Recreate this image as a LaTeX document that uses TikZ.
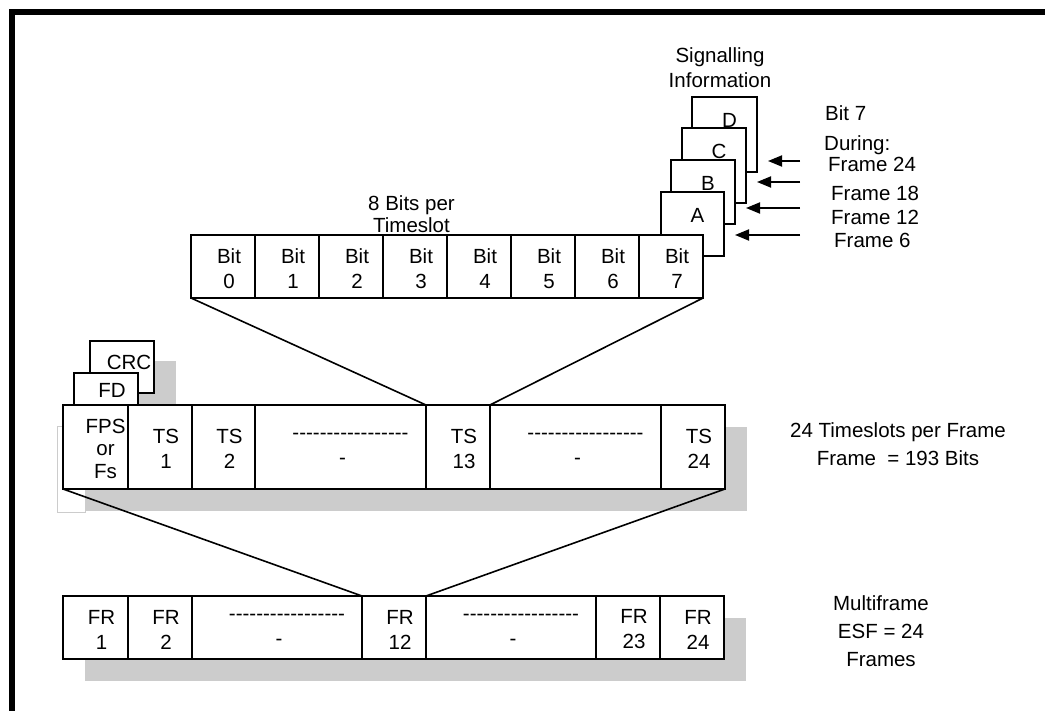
\documentclass[tikz,border=0pt]{standalone}
\usepackage{fontspec}
\setmainfont{Liberation Sans}
\usetikzlibrary{arrows.meta,backgrounds}

\tikzset{
  cell/.style={draw, fill=white, line width=1.9pt, inner sep=0pt, outer sep=0pt, anchor=north west},
  lbl/.style={align=center, inner sep=0pt},
  note/.style={anchor=base west, inner sep=0pt},
  link/.style={line width=1.6pt},
  sigarrow/.style={line width=1.8pt, -{Triangle[length=14pt,width=11pt]}, shorten >=11pt},
  backdrop/.style={fill=black!20},
}
\newcommand{\dashes}{\foreach \k in {1,...,17}{-\kern0pt}}

\begin{document}
\begin{tikzpicture}[x=1pt, y=-1pt, font=\fontsize{20.5}{25}\selectfont]
    \useasboundingbox (0,0) rectangle (1045,711);
    \draw[line width=6pt, line join=miter] (12,711) -- (12,12) -- (1045,12);

    % signalling bits A-D
    \foreach \s/\x/\y/\w/\h in {D/692/97/65/75, C/682/128/64/75, B/671/160/64/64, A/661/192/63/64} {
        \node[cell, minimum width=\w, minimum height=\h] (sig\s) at (\x,\y) {};
        \node[lbl] (lab\s) at ([shift={(5,23)}]sig\s.north) {\s};
    }
    \foreach \s/\y in {D/161, C/182, B/208, A/235} {
        \coordinate (in\s) at (800,\y);
        \draw[sigarrow] (in\s) -- (sig\s.east |- in\s);
    }
    \node[lbl] (sigtitle) at (720,67.5) {Signalling\\Information};
    \node[note] (bitseven) at (825,120.5) {Bit 7};
    \node[note] (during) at (824,150.5) {During:};
    \node[note] (fr24txt) at (828,171.5) {Frame 24};
    \node[note] (fr18txt) at (831,200.5) {Frame 18};
    \node[note] (fr12txt) at (831,224.5) {Frame 12};
    \node[note] (fr6txt) at (834,247.5) {Frame 6};

    % timeslot bits
    \foreach \i in {0,...,7} {
        \node[cell, minimum width=64, minimum height=63] (bit\i) at ({191+64*\i},235) {};
        \node[lbl] (bitl\i) at ([shift={(6,2)}]bit\i.center) {Bit\\\i};
    }
    \node[lbl, font=\fontsize{20.5}{22}\selectfont] (bitsper) at (411.5,214) {8 Bits per\\Timeslot};

    % frame
    \node[cell, minimum width=64, minimum height=52] (crc) at (90,341) {};
    \node[lbl] (crcl) at ([shift={(7,-5)}]crc.center) {CRC};
    \node[cell, minimum width=64, minimum height=40] (fd) at (74,373) {};
    \node[lbl] (fdl) at ([shift={(6,-3)}]fd.center) {FD};
    \foreach \n/\x/\w in {fps/63/65, ts1/128/64, ts2/192/63, tsa/255/171, ts13/426/64, tsb/490/171, ts24/661/64}
        \node[cell, minimum width=\w, minimum height=84] (\n) at (\x,405) {};
    \node[lbl, font=\fontsize{20.5}{22.5}\selectfont] (fpsl) at ([shift={(10,1.5)}]fps.center) {FPS\\or\\Fs};
    \foreach \n/\k in {ts1/1, ts2/2, ts13/13, ts24/24}
        \node[lbl] (\n l) at ([shift={(6,2)}]\n.center) {TS\\\k};
    \node[lbl, font=\fontsize{20.5}{27.5}\selectfont] (tsinfo) at (898,444) {24 Timeslots per Frame\\Frame~ = 193 Bits};

    % multiframe
    \foreach \n/\x/\w in {fr1/63/65, fr2/128/64, fra/192/170, fr12/362/64, frb/426/170, fr23/596/64, fr24/660/64}
        \node[cell, minimum width=\w, minimum height=63] (\n) at (\x,596) {};
    \foreach \n/\k in {fr1/1, fr2/2, fr12/12, fr23/23, fr24/24}
        \node[lbl] (\n l) at ([shift={(6,2)}]\n.center) {FR\\\k};
    \foreach \n in {tsa, tsb, fra, frb}
        \node[lbl] (\n l) at ([shift={(10,2)}]\n.center) {\dashes\\-\kern16pt};
    \node[lbl, font=\fontsize{20.5}{28}\selectfont] (mfinfo) at (881,631) {Multiframe\\ESF = 24\\Frames};

    \draw[link] (bit0.south west) -- (ts13.north west);
    \draw[link] (bit7.south east) -- (ts13.north east);
    \draw[link] (fps.south west) -- (fr12.north west);
    \draw[link] (ts24.south east) -- (fr12.north east);

    \begin{scope}[on background layer]
        \fill[backdrop] ([shift={(22,20)}]crc.north west) rectangle ([shift={(22,20)}]crc.south east);
        \fill[backdrop] ([shift={(22,22)}]fps.north west) rectangle ([shift={(22,22)}]ts24.south east);
        \draw[black!20, line width=0.8pt] ([shift={(-6,21)}]fps.north west) rectangle ([shift={(22,23)}]fps.south west);
        \fill[backdrop] ([shift={(22,22)}]fr1.north west) rectangle ([shift={(22,22)}]fr24.south east);
    \end{scope}
\end{tikzpicture}
\end{document}
